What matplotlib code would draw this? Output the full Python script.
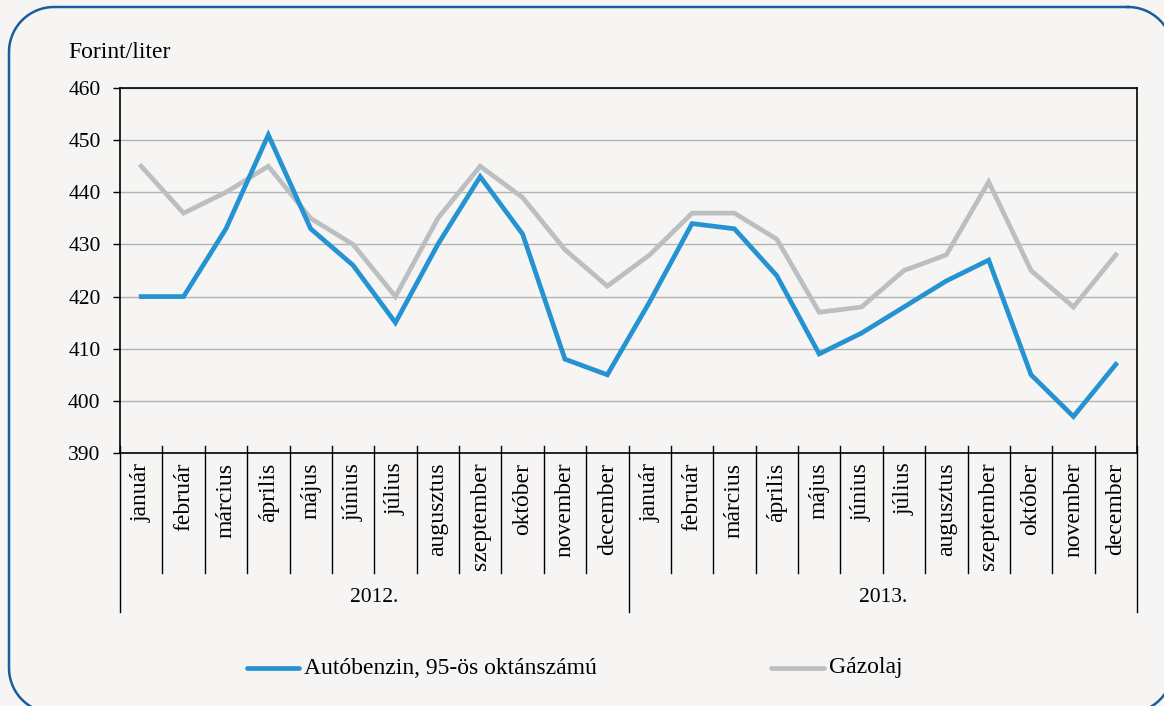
import numpy as np
import matplotlib
matplotlib.use("Agg")
import matplotlib.pyplot as plt
from matplotlib.lines import Line2D
import matplotlib.transforms as mtransforms

plt.rcParams["font.family"] = ["Liberation Serif", "DejaVu Serif"]

# ======== data
months = ["január", "február", "március", "április", "május", "június",
          "július", "augusztus", "szeptember", "október", "november", "december"]
years = ["2012.", "2013."]
benzin = [420, 420, 433, 451, 433, 426, 415, 430, 443, 432, 408, 405,
          419, 434, 433, 424, 409, 413, 418, 423, 427, 405, 397, 407]
gazolaj = [445, 436, 440, 445, 435, 430, 420, 435, 445, 439, 429, 422,
           428, 436, 436, 431, 417, 418, 425, 428, 442, 425, 418, 428]
labels = ["Autóbenzin, 95-ös oktánszámú", "Gázolaj"]

BLUE = "#2593d1"
GRAY = "#bcbfc2"
BG = "#f6f5f4"
FS_NUM = 15.5  # digits
FS_TXT = 17  # words (Garamond-like width)
LW = 3.4

W, H = 1164, 706
fig = plt.figure(figsize=(W / 100, H / 100), dpi=100)
fig.patch.set_facecolor(BG)


# rounded frame, built in pixel coords (y down), drawn in figure coords
def rounded_rect(x0, y0, x1, y1, r, k=30):
    pts = []
    corners = [(x1 - r, y0 + r, -90, 0), (x1 - r, y1 - r, 0, 90),
               (x0 + r, y1 - r, 90, 180), (x0 + r, y0 + r, 180, 270)]
    for cx, cy, a0, a1 in corners:
        t = np.radians(np.linspace(a0, a1, k))
        pts += list(zip(cx + r * np.cos(t), cy + r * np.sin(t)))
    pts.append(pts[0])
    pts = np.array(pts)
    return pts[:, 0] / W, 1 - pts[:, 1] / H


fx, fy = rounded_rect(9, 7, 1173, 713, 45)
fig.add_artist(Line2D(fx, fy, color="#1a5c9c", lw=1.8,
                      transform=fig.transFigure))

ax = fig.add_axes([120 / W, 1 - 453 / H, (1137 - 120) / W, (453 - 88) / H])
ax.set_facecolor(BG)

n = len(benzin)
x = np.arange(n)
ax.plot(x, gazolaj, color=GRAY, lw=LW, solid_joinstyle="miter", zorder=3)
ax.plot(x, benzin, color=BLUE, lw=LW, solid_joinstyle="miter", zorder=4)

ax.set_xlim(-0.5, n - 0.5)
ax.set_ylim(390, 460)
ax.set_yticks(range(390, 461, 10))
ax.yaxis.grid(True, color="#b3b3b3", lw=1)
ax.set_axisbelow(True)
ax.tick_params(axis="y", length=5, width=1, pad=9, labelsize=FS_NUM)

ax.set_xticks(x)
ax.set_xticklabels(months * 2, rotation=90, fontsize=FS_TXT)
ax.tick_params(axis="x", length=0, pad=7)
for lab in ax.get_xticklabels():
    lab.set_verticalalignment("top")

for s in ax.spines.values():
    s.set_color("black")
    s.set_linewidth(1.2)

# category separators below axis
trans = mtransforms.blended_transform_factory(ax.transData, ax.transAxes)
for b in np.arange(-0.5, n, 1.0):
    if b in (-0.5, 11.5, n - 0.5):
        y0 = -0.436
    else:
        y0 = -0.329
    ax.plot([b, b], [y0, 0.019], color="black", lw=1, transform=trans,
            clip_on=False, zorder=5)

for i, yr in enumerate(years):
    ax.text(5.5 + 12 * i, -0.395, yr, transform=trans, ha="center",
            va="center", fontsize=FS_NUM)

fig.text(68 / W, 1 - 52 / H, "Forint/liter", ha="left", va="center",
         fontsize=FS_TXT)

# legend
ly = 1 - 668 / H
for (x0, x1), col, lab in zip([(247, 299), (771, 824)], [BLUE, GRAY], labels):
    fig.add_artist(Line2D([x0 / W, x1 / W], [ly, ly], color=col, lw=LW,
                          solid_capstyle="round", transform=fig.transFigure))
    fig.text((x1 + 5) / W, ly, lab, ha="left", va="center", fontsize=FS_TXT)

fig.savefig("out.png", dpi=100, facecolor=BG)
